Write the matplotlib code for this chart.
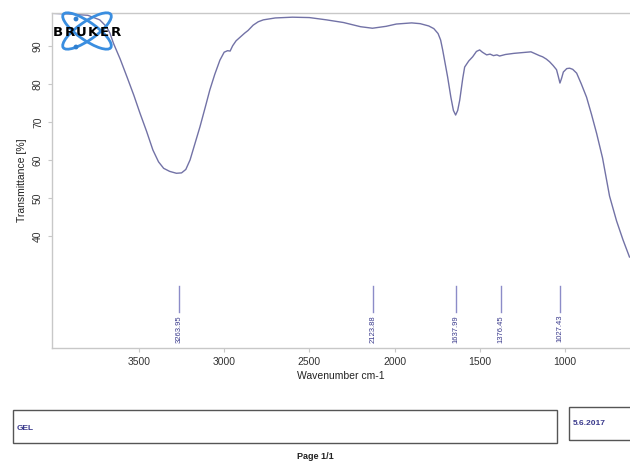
import matplotlib
matplotlib.use("Agg")
import matplotlib.pyplot as plt
from matplotlib.patches import Ellipse, Rectangle, Circle

plt.rcParams['font.family'] = ['Liberation Sans', 'DejaVu Sans']

# spectrum (wavenumber cm-1, transmittance %)
wavenumber = [4000, 3900, 3800, 3730, 3690, 3670, 3650, 3610, 3570, 3530,
              3494, 3455, 3418, 3385, 3355, 3320, 3280, 3250, 3225, 3200,
              3170, 3142, 3110, 3084, 3055, 3025, 3000, 2980, 2965, 2950,
              2930, 2905, 2880, 2860, 2830, 2800, 2770, 2700, 2600, 2500,
              2400, 2300, 2200, 2130, 2050, 1990, 1900, 1850, 1800, 1770,
              1745, 1730, 1718, 1700, 1689, 1670, 1655, 1642, 1630, 1618,
              1600, 1589, 1565, 1542, 1520, 1501, 1485, 1460, 1440, 1420,
              1400, 1384, 1350, 1300, 1250, 1200, 1180, 1150, 1132, 1110,
              1091, 1070, 1050, 1040, 1030, 1020, 1010, 990, 973, 955,
              932, 905, 874, 845, 815, 780, 739, 698, 660, 622]
transmittance = [98.5, 98.3, 98.0, 96.8, 95.0, 93.3, 90.7, 86.5, 81.8, 77.0,
                 72.3, 67.5, 62.6, 59.5, 57.8, 57.0, 56.5, 56.6, 57.5, 60.0,
                 64.5, 68.7, 74.0, 78.4, 82.5, 86.2, 88.3, 88.7, 88.6, 90.0,
                 91.3, 92.3, 93.3, 94.0, 95.4, 96.3, 96.8, 97.3, 97.5, 97.4,
                 96.8, 96.1, 95.0, 94.6, 95.1, 95.7, 96.0, 95.8, 95.2, 94.5,
                 93.2, 91.5, 88.9, 84.5, 81.8, 76.5, 73.0, 71.8, 73.0, 75.7,
                 81.5, 84.4, 86.0, 87.1, 88.5, 88.9, 88.3, 87.6, 87.8, 87.4,
                 87.6, 87.3, 87.7, 88.0, 88.2, 88.4, 88.0, 87.4, 87.1, 86.5,
                 85.8, 84.8, 83.7, 82.0, 80.2, 81.5, 83.1, 84.0, 84.1, 83.8,
                 82.8, 80.0, 76.5, 72.0, 67.0, 60.5, 50.5, 44.0, 39.0, 34.5]

peaks = [3263.95, 2123.88, 1637.99, 1376.45, 1027.43]
peak_labels = ["3263.95", "2123.88", "1637.99", "1376.45", "1027.43"]

W, H = 630, 461
fig = plt.figure(figsize=(W / 100, H / 100), dpi=100)
ax = fig.add_axes([52 / W, 1 - 348 / H, 1 - 52 / W, (348 - 13) / H])

ax.plot(wavenumber, transmittance, color='#7272a6', lw=1.0)

for p, lab in zip(peaks, peak_labels):
    ax.plot([p, p], [20.0, 26.9], color='#8c8cc8', lw=1.0)
    ax.text(p, 19.3, lab, rotation=90, ha='center', va='top',
            fontsize=5.5, color='#3a3a8c')

ax.set_xlim(4010, 619)
ax.set_ylim(10.6, 98.6)
ax.set_xticks([3500, 3000, 2500, 2000, 1500, 1000])
ax.set_yticks([40, 50, 60, 70, 80, 90])
for lbl in ax.get_yticklabels():
    lbl.set_rotation(90)
    lbl.set_va('center')
ax.tick_params(labelsize=7.5, colors='#c8c8c8', labelcolor='#333333',
               length=3, width=0.8)
ax.spines['right'].set_visible(False)
for s in ['left', 'bottom', 'top']:
    ax.spines[s].set_color('#c8c8c8')
    ax.spines[s].set_linewidth(1.0)
ax.set_xlabel("Wavenumber cm-1", fontsize=7.5, color='#222222', labelpad=3)
ax.set_ylabel("Transmittance [%]", fontsize=7.5, color='#222222', labelpad=4)

# Bruker logo, drawn in a small pixel-unit axes
lg = fig.add_axes([50 / W, 1 - 52 / H, 80 / W, 42 / H])
lg.set_xlim(0, 80)
lg.set_ylim(0, 42)
lg.axis('off')
for ang in (35, -35):
    lg.add_patch(Ellipse((37, 21), 58, 18, angle=ang, fill=False,
                         ec='#3a8ee0', lw=2.0))
for cx, cy in [(26, 33), (26, 5)]:
    lg.add_patch(Circle((cx, cy), 1.7, color='#2f7fd0'))
for i, ch in enumerate("BRUKER"):
    lg.text(8 + i * 11.6, 20, ch, fontsize=9.5, fontweight='heavy',
            color='black', ha='center', va='center',
            family=['DejaVu Sans'])

# footer boxes
fig.patches.append(Rectangle((13 / W, 1 - 443 / H), 544 / W, 33 / H,
                             transform=fig.transFigure, fill=False,
                             ec='#555555', lw=1.0))
fig.patches.append(Rectangle((569 / W, 1 - 440 / H), 70 / W, 33 / H,
                             transform=fig.transFigure, fill=False,
                             ec='#555555', lw=1.0))
fig.text(17 / W, 1 - 428 / H, "GEL", fontsize=6, color='#3a3a8c',
         va='center', fontweight='bold')
fig.text(573 / W, 1 - 423 / H, "5.6.2017", fontsize=6, color='#3a3a8c',
         va='center', fontweight='bold')
fig.text(315 / W, 1 - 456 / H, "Page 1/1", fontsize=6.5, fontweight='bold',
         color='#222222', ha='center', va='center')

fig.savefig("out.png", dpi=100)
